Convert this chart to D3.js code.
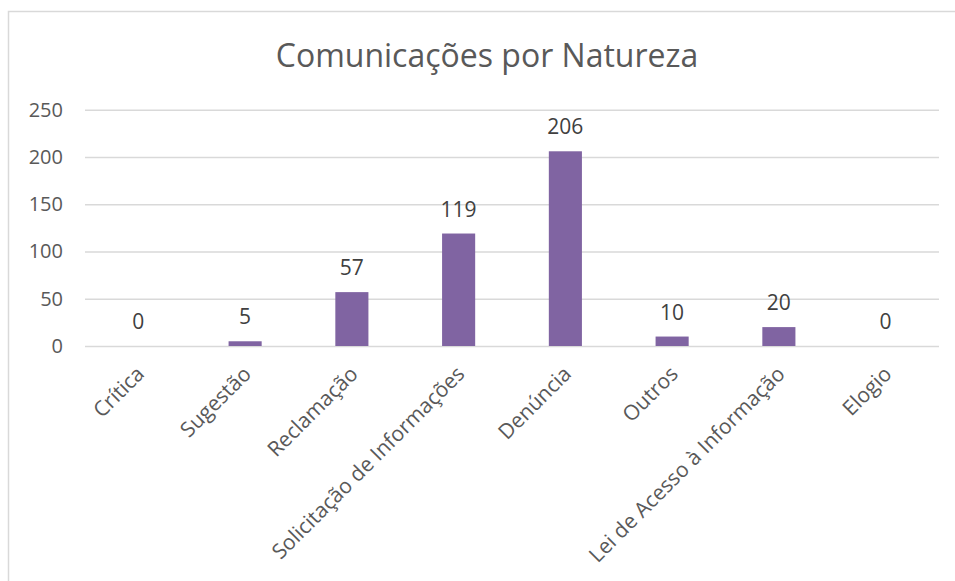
<!DOCTYPE html>
<html>
<head>
<meta charset="utf-8">
<script src="https://cdn.jsdelivr.net/npm/d3@7"></script>
<style>
	html, body { margin: 0; padding: 0; background: #fff; }
	svg { display: block; font-family: "Open Sans", sans-serif; }
</style>
</head>
<body>
<svg id="chart" width="955" height="581"></svg>
<script>
;(() => {
	'use strict';

	// chart data
	const categories = ['Crítica', 'Sugestão', 'Reclamação', 'Solicitação de Informações', 'Denúncia', 'Outros', 'Lei de Acesso à Informação', 'Elogio'],
		values = [0, 5, 57, 119, 206, 10, 20, 0],
		yTicks = [0, 50, 100, 150, 200, 250],
		title = 'Comunicações por Natureza';

	const plot = {left: 85, right: 939, top: 109.7, bottom: 346},
		barColor = '#8064A2',
		gridColor = '#d9d9d9';

	const svg = d3.select('#chart');

	// outer chart border
	svg.append('rect')
		.attr('x', 8.5)
		.attr('y', 11.5)
		.attr('width', 960)
		.attr('height', 600)
		.attr('fill', 'none')
		.attr('stroke', gridColor)
		.attr('stroke-width', 1.5);

	const x = d3.scaleBand()
		.domain(categories)
		.range([plot.left, plot.right])
		.paddingInner(0.69)
		.paddingOuter(0.345);

	const y = d3.scaleLinear()
		.domain([0, 250])
		.range([plot.bottom, plot.top]);

	// title
	svg.append('text')
		.attr('x', 487)
		.attr('y', 67)
		.attr('text-anchor', 'middle')
		.attr('fill', '#595959')
		.attr('font-size', 32)
		.text(title);

	// gridlines + y labels
	const yAxis = d3.axisLeft(y)
		.tickValues(yTicks)
		.tickSize(-(plot.right - plot.left))
		.tickPadding(22);

	const gy = svg.append('g')
		.attr('transform', `translate(${plot.left},0)`)
		.call(yAxis);
	gy.select('.domain').remove();
	gy.selectAll('.tick line')
		.attr('stroke', gridColor)
		.attr('stroke-width', 1.5);
	gy.selectAll('.tick text')
		.attr('fill', '#595959')
		.attr('font-size', 20)
		.attr('font-family', '"Open Sans", sans-serif');

	// bars
	svg.append('g')
		.selectAll('rect')
		.data(values)
		.enter()
		.append('rect')
		.attr('x', (d, i) => x(categories[i]))
		.attr('y', d => y(d))
		.attr('width', x.bandwidth())
		.attr('height', d => y(0) - y(d))
		.attr('fill', barColor);

	// value labels
	svg.append('g')
		.selectAll('text')
		.data(values)
		.enter()
		.append('text')
		.attr('x', (d, i) => x(categories[i]) + x.bandwidth() / 2)
		.attr('y', d => y(d) - 17)
		.attr('text-anchor', 'middle')
		.attr('fill', '#404040')
		.attr('font-size', 21)
		.text(d => d);

	// category labels, rotated
	svg.append('g')
		.selectAll('text')
		.data(categories)
		.enter()
		.append('text')
		.attr('transform', d => `translate(${x(d) + x.bandwidth() / 2 + 2},${plot.bottom + 24}) rotate(-45)`)
		.attr('text-anchor', 'end')
		.attr('dy', '0.35em')
		.attr('fill', '#595959')
		.attr('font-size', 21)
		.text(d => d);

})();
</script>
</body>
</html>
